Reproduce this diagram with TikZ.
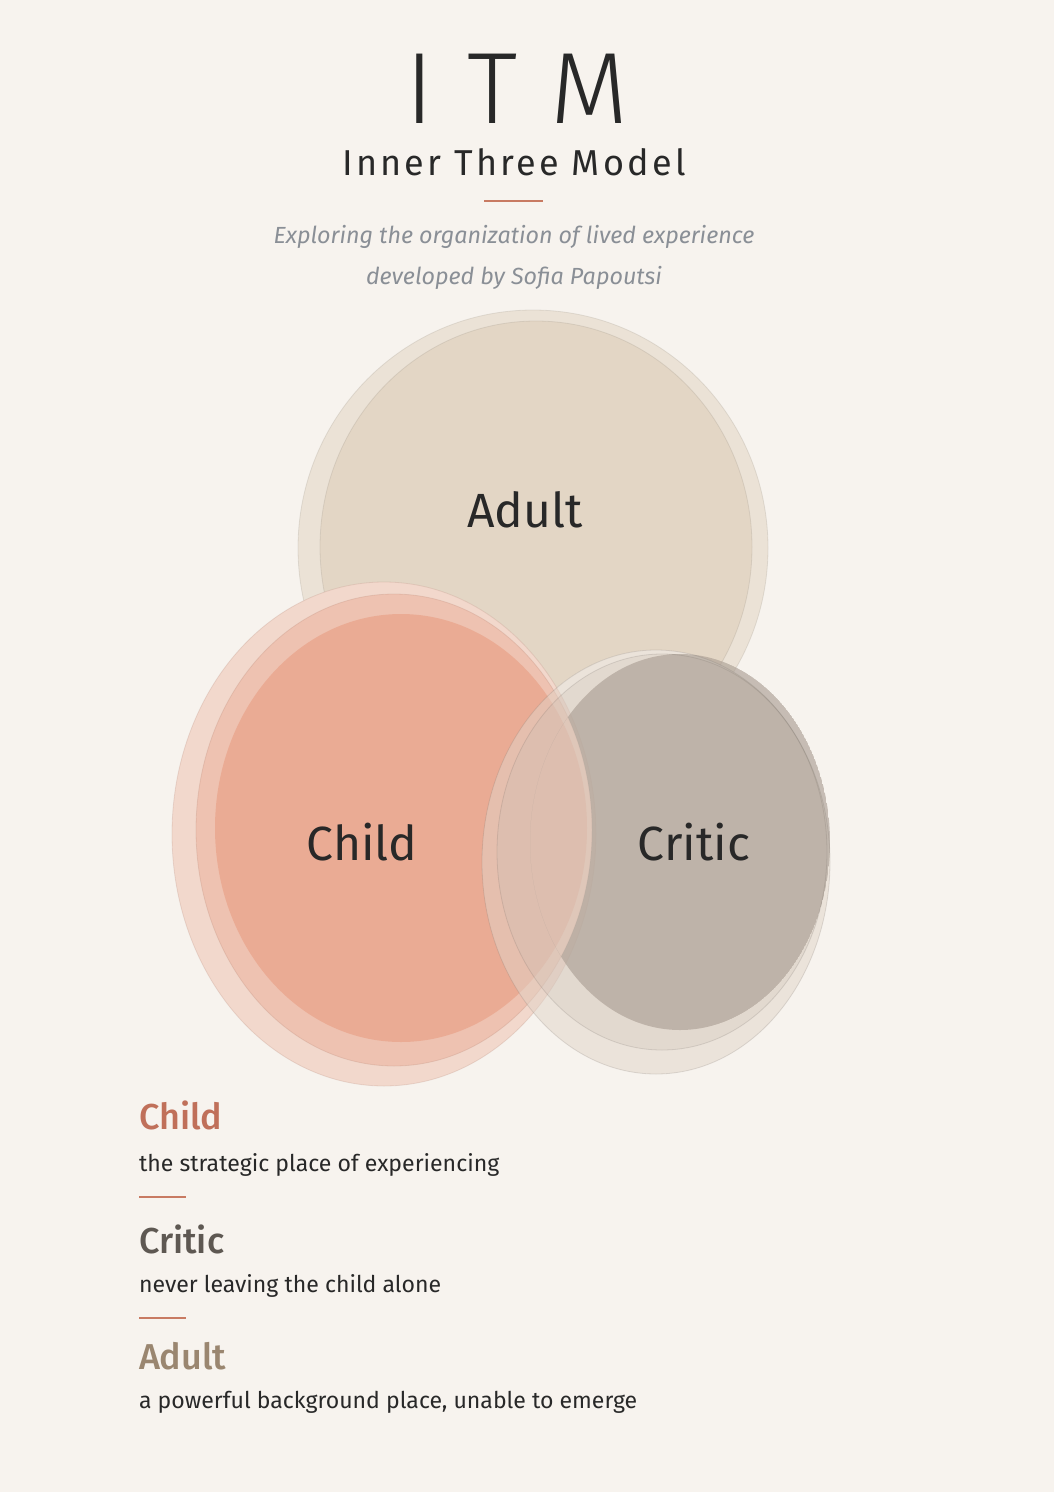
\documentclass[tikz,border=0pt]{standalone}
\usepackage{fontspec}
\setmainfont{Fira Sans}
\IfFontExistsTF{Fira Sans Medium}{\newfontfamily\medf{Fira Sans Medium}}{\newcommand\medf{\bfseries}}
\IfFontExistsTF{Fira Sans Book}{\newfontfamily\spacedbook[LetterSpace=9]{Fira Sans Book}}{\newfontfamily\spacedbook[LetterSpace=9]{Fira Sans}}
\IfFontExistsTF{Fira Sans Light}{\newfontfamily\titlef[LetterSpace=5]{Fira Sans Light}}{\newfontfamily\titlef[LetterSpace=4]{Fira Sans}}
\definecolor{bg}{RGB}{247,243,238}
\definecolor{ink}{RGB}{40,40,40}
\definecolor{subgray}{RGB}{138,143,150}
\definecolor{rulec}{RGB}{200,122,98}
\definecolor{childhead}{RGB}{192,112,90}
\definecolor{critichead}{RGB}{94,88,82}
\definecolor{adulthead}{RGB}{154,134,112}
\definecolor{adultc}{RGB}{222,207,186}
\definecolor{childc}{RGB}{232,155,128}
\definecolor{criticc}{RGB}{172,160,149}
\definecolor{criticlight}{RGB}{225,212,200}
\definecolor{criticmid}{RGB}{200,188,178}
\tikzset{
  txt/.style={inner sep=0pt, outer sep=0pt},
  circlabel/.style={txt, anchor=base, text=ink, font=\fontsize{36}{40}\selectfont},
  heading/.style={txt, anchor=base west, font=\medf\fontsize{27}{30}\selectfont},
  desc/.style={txt, anchor=base west, text=ink, font=\fontsize{17.3}{20}\selectfont},
  subtitle/.style={txt, anchor=base, text=subgray, font=\itshape\fontsize{17.5}{20}\selectfont},
  shortrule/.style={draw=rulec, line width=1.3pt},
  edge/.style={line width=0.6pt, opacity=0.18}
}
\begin{document}
\begin{tikzpicture}[x=0.75pt,y=-0.75pt]
\fill[bg] (0,0) rectangle (1054,1492);
\useasboundingbox (0,0) rectangle (1054,1492);
% Adult
\fill[adultc, opacity=0.45] (533,548) ellipse [x radius=235, y radius=238];
\fill[adultc, opacity=0.6] (536,547) ellipse [x radius=216, y radius=226];
\draw[edge, adultc!60!black] (533,548) ellipse [x radius=235, y radius=238];
\draw[edge, adultc!60!black] (536,547) ellipse [x radius=216, y radius=226];
% paper under child and critic (hides the adult)
\fill[bg] (656,862) ellipse [x radius=174, y radius=212];
\fill[bg] (384,834) ellipse [x radius=212, y radius=252];
% Child
\fill[childc, opacity=0.30] (384,834) ellipse [x radius=212, y radius=252];
\fill[childc, opacity=0.35] (394,830) ellipse [x radius=198, y radius=236];
\fill[childc, opacity=0.58] (401,828) ellipse [x radius=186, y radius=214];
\draw[edge, childc!70!black] (384,834) ellipse [x radius=212, y radius=252];
\draw[edge, childc!70!black] (394,830) ellipse [x radius=198, y radius=236];
% Critic
\fill[criticlight, opacity=0.5] (656,862) ellipse [x radius=174, y radius=212];
\fill[criticmid, opacity=0.25] (662,852) ellipse [x radius=165, y radius=198];
\begin{scope}
  \clip (680,842) ellipse [x radius=150, y radius=188];
  \fill[criticc, opacity=0.65, even odd rule] (680,842) ellipse [x radius=150, y radius=188] (394,830) ellipse [x radius=198, y radius=236];
\end{scope}
\draw[edge, criticc!60!black] (656,862) ellipse [x radius=174, y radius=212];
\draw[edge, criticc!60!black] (662,852) ellipse [x radius=165, y radius=198];
% circle labels
\node[circlabel] (adult) at (525,527) {Adult};
\node[circlabel] (child) at (362,860) {Child};
\node[circlabel] (critic) at (694,860) {Critic};
% title
\node[txt, anchor=base, text=ink, font=\titlef\fontsize{76}{80}\selectfont] (itm) at (517,123) {I T M};
\node[txt, anchor=base, text=ink, font=\spacedbook\fontsize{27}{30}\selectfont] (model) at (514,175) {Inner Three Model};
\coordinate (ruleL) at (484,201);
\coordinate (ruleR) at (543,201);
\draw[shortrule] (ruleL) -- (ruleR);
\node[subtitle] (sub1) at (514,243) {Exploring the organization of lived experience};
\node[subtitle] (sub2) at (514,284) {developed by Sofia Papoutsi};
% legend
\node[heading, text=childhead] (hchild) at (139,1129) {Child};
\node[desc] (dchild) at (139,1171) {the strategic place of experiencing};
\coordinate (r1L) at (139,1197);
\coordinate (r1R) at (186,1197);
\draw[shortrule] (r1L) -- (r1R);
\node[heading, text=critichead] (hcritic) at (139,1253) {Critic};
\node[desc] (dcritic) at (139,1292) {never leaving the child alone};
\coordinate (r2L) at (139,1318);
\coordinate (r2R) at (186,1318);
\draw[shortrule] (r2L) -- (r2R);
\node[heading, text=adulthead] (hadult) at (139,1369) {Adult};
\node[desc] (dadult) at (139,1408) {a powerful background place, unable to emerge};
\end{tikzpicture}
\end{document}
